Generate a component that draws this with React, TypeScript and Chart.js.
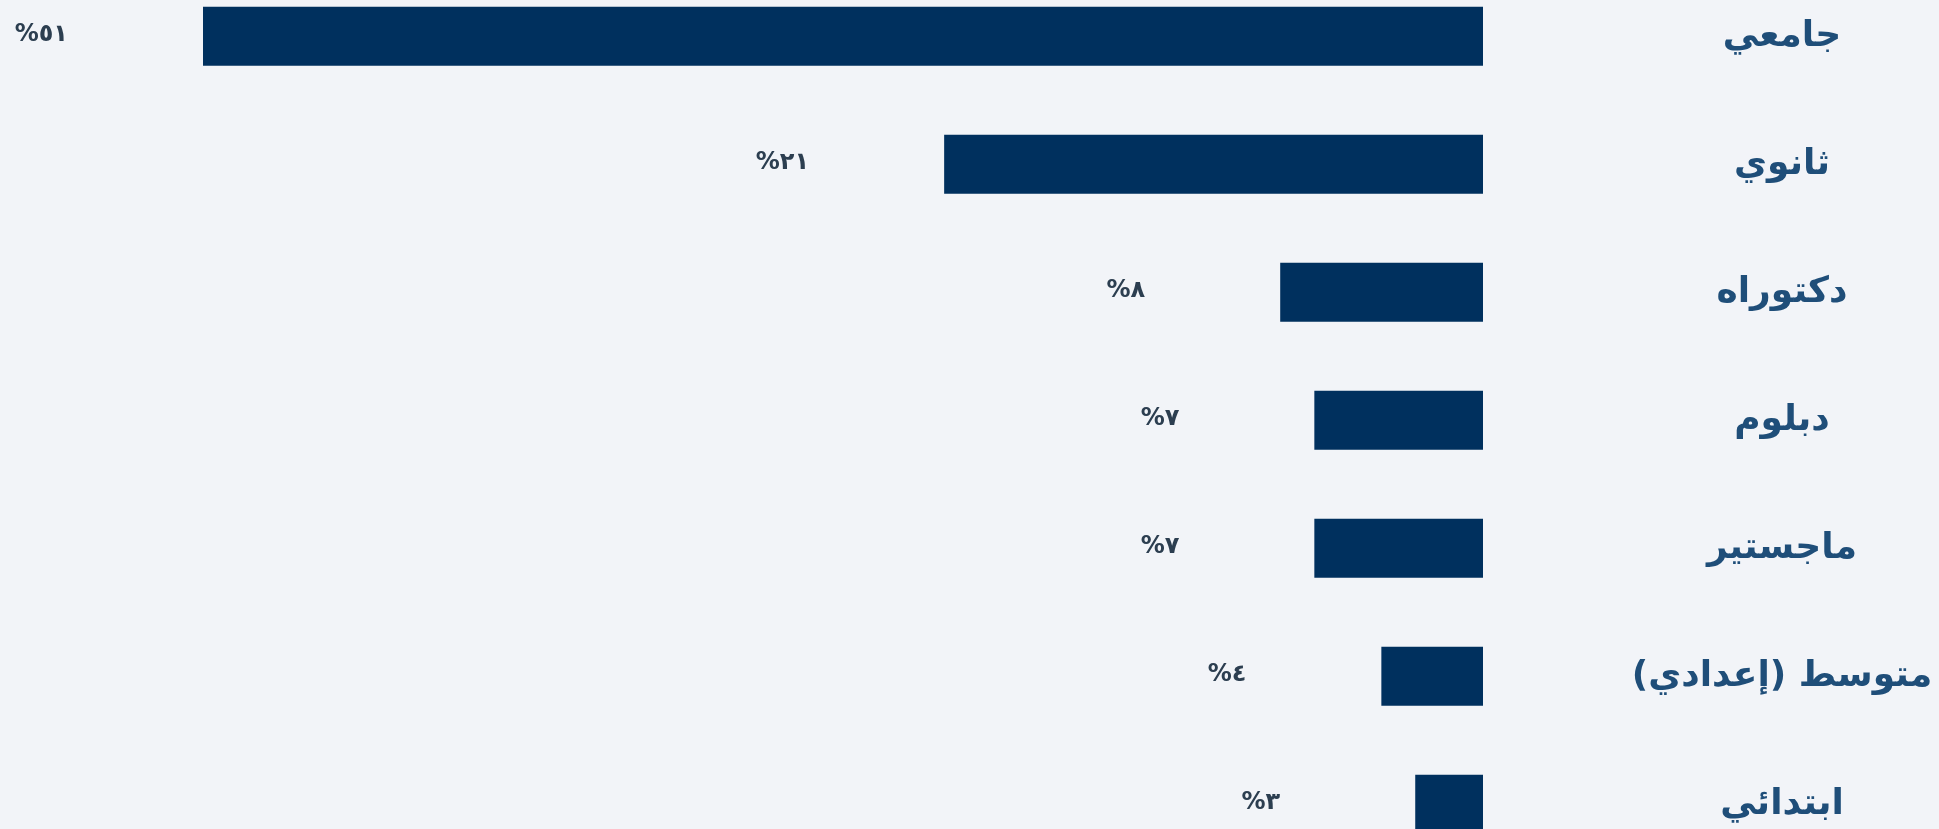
import React, { useEffect, useRef } from "react";
import { Chart, registerables } from "chart.js";

Chart.register(...registerables);

const categories = ["جامعي", "ثانوي", "دكتوراه", "دبلوم", "ماجستير", "متوسط (إعدادي)", "ابتدائي"];
const shares = [50.62, 21.31, 8.02, 6.67, 6.67, 4.02, 2.68];
const valueLabels = ["٥١%", "٢١%", "٨%", "٧%", "٧%", "٤%", "٣%"];

const BG = "#f2f4f8";
const BAR = "#00305e";
const CAT_COLOR = "#1f4e79";
const VAL_COLOR = "#2c3e50";
const FONT = "'DejaVu Sans', sans-serif";
const CAT_SIZE = 36;
const VAL_SIZE = 24;

export default function App() {
  const ref = useRef<HTMLCanvasElement | null>(null);
  useEffect(() => {
    const canvas = ref.current!;
    const W = window.innerWidth;
    const H = window.innerHeight;
    const m = document.createElement("canvas").getContext("2d")!;
    m.font = `bold ${CAT_SIZE}px ${FONT}`;
    let widest = 0;
    categories.forEach((c) => (widest = Math.max(widest, m.measureText(c).width)));
    const plotRight = 1483;
    const labelCenter = 1782;
    const tickPad = labelCenter - plotRight - widest / 2;
    const axisWidth = tickPad + widest;
    const padRight = Math.max(0, W - plotRight - axisWidth);

    const valuePlugin = {
      id: "valueLabels",
      afterDatasetsDraw(chart: any) {
        const ctx = chart.ctx;
        const meta = chart.getDatasetMeta(0);
        ctx.save();
        ctx.direction = "rtl";
        ctx.font = `bold ${VAL_SIZE}px ${FONT}`;
        ctx.fillStyle = VAL_COLOR;
        ctx.textAlign = "right";
        ctx.textBaseline = "middle";
        meta.data.forEach((bar: any, i: number) => {
          ctx.fillText(valueLabels[i], bar.x - 135, bar.y - 2);
        });
        ctx.restore();
      },
    };

    const chart = new Chart(canvas, {
      type: "bar",
      data: {
        labels: categories,
        datasets: [
          {
            data: shares,
            backgroundColor: BAR,
            borderWidth: 0,
            categoryPercentage: 1,
            barPercentage: 0.46,
            clip: false as any,
          },
        ],
      },
      options: {
        indexAxis: "y",
        animation: false,
        responsive: true,
        maintainAspectRatio: false,
        layout: { padding: { left: 203, top: 36.3, bottom: H - 804.3, right: padRight } },
        plugins: { legend: { display: false }, tooltip: { enabled: false } },
        scales: {
          x: {
            display: false,
            reverse: true,
            beginAtZero: true,
            bounds: "data",
            grace: 0,
          },
          y: {
            position: "right",
            offset: false,
            grid: { display: false, drawTicks: false },
            border: { display: false },
            afterFit: (s: any) => {
              s.width = axisWidth;
              s.paddingTop = 0;
              s.paddingBottom = 0;
            },
            ticks: {
              crossAlign: "center",
              padding: tickPad,
              color: CAT_COLOR,
              font: { family: FONT, size: CAT_SIZE, weight: "bold" },
            },
          },
        },
      },
      plugins: [valuePlugin],
    });
    return () => chart.destroy();
  }, []);

  return (
    <div style={{ position: "fixed", left: 0, top: 0, width: "100vw", height: "100vh", background: BG }}>
      <canvas ref={ref} dir="rtl" style={{ direction: "rtl" }} />
    </div>
  );
}
